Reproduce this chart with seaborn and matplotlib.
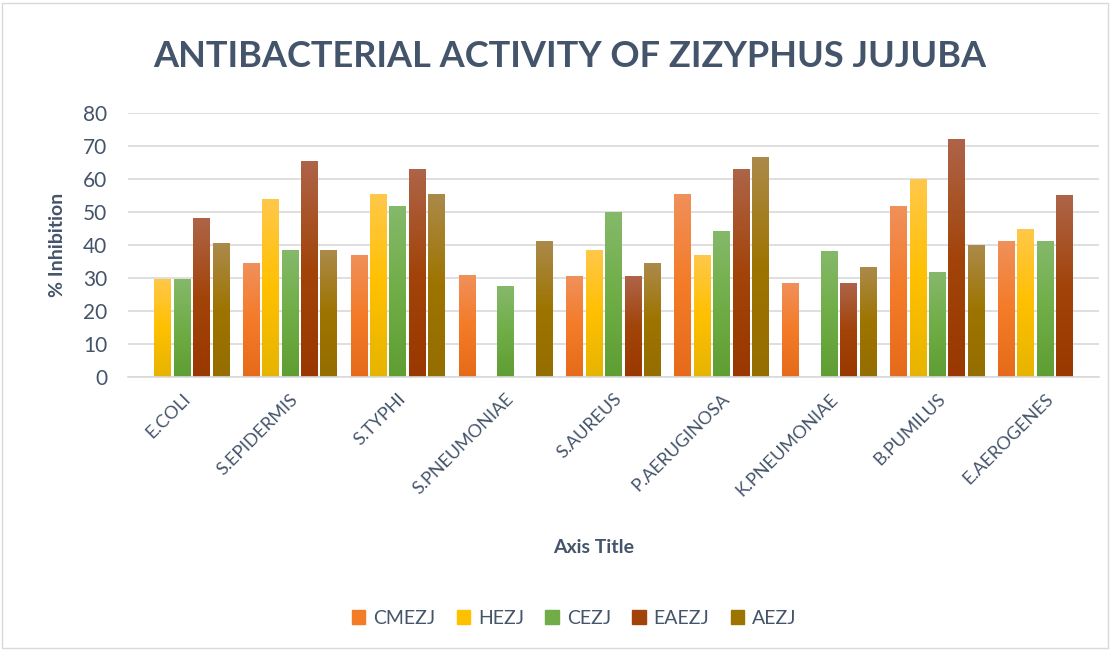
import numpy as np
import pandas as pd
import seaborn as sns
import matplotlib.pyplot as plt
from matplotlib.colors import LinearSegmentedColormap
from matplotlib.patches import Rectangle

bacteria = ["E.COLI", "S.EPIDERMIS", "S.TYPHI", "S.PNEUMONIAE", "S.AUREUS",
            "P.AERUGINOSA", "K.PNEUMONIAE", "B.PUMILUS", "E.AEROGENES"]
extracts = ["CMEZJ", "HEZJ", "CEZJ", "EAEZJ", "AEZJ"]

cmezj = [0, 34.5, 37.0, 30.9, 30.6, 55.5, 28.5, 51.8, 41.2]
hezj = [29.7, 54.0, 55.5, 0, 38.5, 37.0, 0, 60.0, 44.9]
cezj = [29.7, 38.5, 51.8, 27.5, 50.0, 44.3, 38.2, 31.8, 41.2]
eaezj = [48.2, 65.5, 63.1, 0, 30.6, 63.1, 28.5, 72.2, 55.2]
aezj = [40.6, 38.5, 55.5, 41.2, 34.5, 66.7, 33.3, 40.0, 0]

# top (light) / bottom (dark) gradient colours, office style
grad = {
    "CMEZJ": ("#F0905A", "#E56B1A"),
    "HEZJ": ("#FFC84A", "#E6B400"),
    "CEZJ": ("#85B96A", "#5F9E33"),
    "EAEZJ": ("#AE6448", "#993800"),
    "AEZJ": ("#AB8A4A", "#956E00"),
}
mid = {"CMEZJ": "#F47B28", "HEZJ": "#FFC000", "CEZJ": "#70AD47",
       "EAEZJ": "#A2440A", "AEZJ": "#9E7400"}
txt = "#44546A"

df = pd.DataFrame({"bacteria": bacteria, "CMEZJ": cmezj, "HEZJ": hezj,
                   "CEZJ": cezj, "EAEZJ": eaezj, "AEZJ": aezj})
long = df.melt(id_vars="bacteria", var_name="extract", value_name="inhibition")

sns.set_style("white")
plt.rcParams['font.family'] = ['Lato', 'DejaVu Sans']

fig = plt.figure(figsize=(11.17, 6.51), dpi=100)
ax = fig.add_axes([0.1146, 0.4209, 0.8693, 0.4055])

sns.barplot(data=long, x="bacteria", y="inhibition", hue="extract",
            hue_order=extracts, order=bacteria, palette=mid,
            width=0.9, gap=0.15, ax=ax, legend=False, saturation=1)

# gradient fill per bar
n = len(bacteria)
for i, p in enumerate(ax.patches):
    ext = extracts[i // n]
    top, bot = grad[ext]
    cm = LinearSegmentedColormap.from_list(ext, [bot, mid[ext], top])
    x0, w, h = p.get_x(), p.get_width(), p.get_height()
    if h <= 0:
        p.set_visible(False)
        continue
    g = np.linspace(0, 1, 100).reshape(-1, 1)
    im = ax.imshow(g, cmap=cm, aspect="auto", origin="lower",
                   extent=[x0, x0 + w, 0, h], zorder=p.get_zorder())
    im.set_clip_path(p)
    p.set_facecolor("none")
    p.set_edgecolor("none")

ax.set_xlim(-0.5, n - 0.5)
ax.set_ylim(0, 80)
ax.set_yticks(range(0, 81, 10))
ax.yaxis.grid(True, color="#D9D9D9", linewidth=1.2)
ax.set_axisbelow(True)
for s in ["top", "right", "left"]:
    ax.spines[s].set_visible(False)
ax.spines["bottom"].set_color("#D9D9D9")
ax.spines["bottom"].set_linewidth(1.2)

ax.set_xticks(np.arange(-0.5, n, 1), minor=True)
ax.tick_params(axis="x", which="minor", length=6, color="#D9D9D9", width=1.2)
ax.tick_params(axis="x", which="major", length=0, pad=10)
ax.tick_params(axis="y", length=0, labelsize=15, labelcolor=txt, pad=15)
ax.set_xticks(range(n))
ax.set_xticklabels(bacteria, rotation=45, ha="right", rotation_mode="anchor",
                   fontsize=13, color=txt)

ax.set_ylabel("% Inhibition", fontsize=14, fontweight="bold", color=txt, labelpad=12)
ax.set_xlabel("Axis Title", fontsize=14, fontweight="bold", color=txt)
ax.xaxis.set_label_coords(0.48, -0.615)

fig.text(0.51, 0.913, "ANTIBACTERIAL ACTIVITY OF ZIZYPHUS JUJUBA", ha="center",
         va="center", fontsize=26, fontweight="bold", color=txt)

handles = [Rectangle((0, 0), 1, 1, color=mid[e]) for e in extracts]
fig.legend(handles, extracts, loc="center", bbox_to_anchor=(0.514, 0.05), ncol=5,
           frameon=False, fontsize=14, labelcolor=txt, handlelength=0.7,
           handleheight=0.7, handletextpad=0.4, columnspacing=1.1)

fig.patches.append(Rectangle((0.002, 0.005), 0.99, 0.99, transform=fig.transFigure,
                             fill=False, edgecolor="#D9D9D9", linewidth=1))

fig.savefig("out.png", dpi=100, facecolor="white")
